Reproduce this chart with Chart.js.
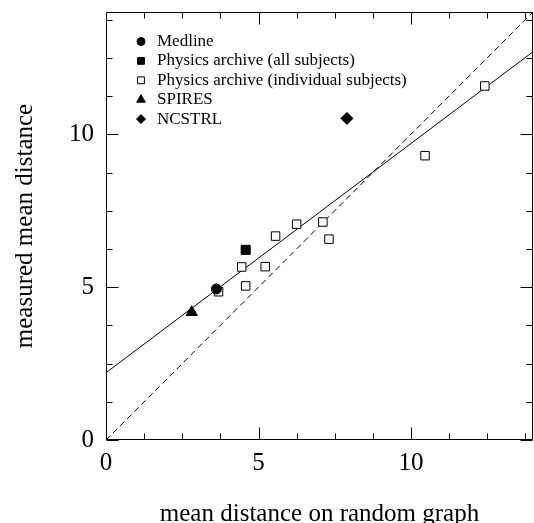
<!DOCTYPE html>
<html>
<head>
<meta charset="utf-8">
<title>Mean distance</title>
<script src="https://cdn.jsdelivr.net/npm/chart.js@4.4.0/dist/chart.umd.min.js"></script>
<style>
  html, body { margin: 0; padding: 0; background: #fff; }
  #distance-chart { display: block; }
</style>
</head>
<body>
<canvas id="distance-chart" width="534" height="523"></canvas>
<script>
(function () {
  'use strict';

  const medlineX = [3.62];
  const medlineY = [4.94];
  const physAllX = [4.58];
  const physAllY = [6.22];
  const physSubX = [3.69, 4.45, 4.58, 5.22, 5.56, 6.25, 7.11, 7.31, 10.46, 12.42];
  const physSubY = [4.85, 5.66, 5.04, 5.67, 6.67, 7.06, 7.13, 6.57, 9.30, 11.58];
  const spiresX = [2.81];
  const spiresY = [4.18];
  const ncstrlX = [7.90];
  const ncstrlY = [10.52];

  // Recta de ajuste y diagonal y = x.
  const fitX = [0, 14];
  const fitY = [2.2, 12.7];
  const diagX = [0, 14];
  const diagY = [0, 14];

  // Marcas de los ejes.
  const majorTicks = [0, 5, 10];
  const minorTicks = [1.25, 2.5, 3.75, 6.25, 7.5, 8.75, 11.25, 12.5, 13.75];

  const SERIF = '"Liberation Serif", "Times New Roman", serif';

  function toPoints(xs, ys) {
    return xs.map(function (x, i) {
      return { x: x, y: ys[i] };
    });
  }

  /**
   * Marco completo con marcas hacia dentro en los cuatro lados.
   */
  const framePlugin = {
    id: 'frame',
    beforeDatasetsDraw: function (chart) {
      const ctx = chart.ctx;
      const a = chart.chartArea;
      const sx = chart.scales.x;
      const sy = chart.scales.y;
      const L = Math.round(a.left) + 0.5;
      const R = Math.round(a.right) - 0.5;
      const T = Math.round(a.top) + 0.5;
      const B = Math.round(a.bottom) - 0.5;

      ctx.save();
      ctx.strokeStyle = '#000';
      ctx.lineWidth = 1;
      ctx.beginPath();
      ctx.rect(L, T, R - L, B - T);

      function mark(v, len) {
        const px = Math.round(sx.getPixelForValue(v)) + 0.5;
        const py = Math.round(sy.getPixelForValue(v)) + 0.5;
        ctx.moveTo(px, B); ctx.lineTo(px, B - len);
        ctx.moveTo(px, T); ctx.lineTo(px, T + len);
        ctx.moveTo(L, py); ctx.lineTo(L + len, py);
        ctx.moveTo(R, py); ctx.lineTo(R - len, py);
      }
      majorTicks.forEach(function (v) { mark(v, 12); });
      minorTicks.forEach(function (v) { mark(v, 6); });
      ctx.stroke();
      ctx.restore();
    },
  };

  /**
   * Leyenda dentro del área, arriba a la izquierda.
   */
  const legendPlugin = {
    id: 'insideLegend',
    afterDatasetsDraw: function (chart) {
      const ctx = chart.ctx;
      const rowX = 141;
      const textX = 157;
      const top = 41.5;
      const step = 19.4;
      const sizes = [4, 4.8, 4.8, 5, 4.5];

      ctx.save();
      ctx.font = '17px ' + SERIF;
      ctx.textBaseline = 'middle';
      ctx.textAlign = 'left';
      let row = 0;
      chart.data.datasets.forEach(function (ds) {
        if (ds.type === 'line') {
          return;
        }
        const y = top + row * step;
        ctx.fillStyle = ds.pointBackgroundColor;
        ctx.strokeStyle = ds.pointBorderColor;
        Chart.helpers.drawPoint(ctx, {
          pointStyle: ds.pointStyle,
          radius: sizes[row],
          rotation: 0,
          borderWidth: ds.pointBorderWidth,
        }, rowX, y);
        ctx.fillStyle = '#000';
        ctx.fillText(ds.label, textX, y);
        row++;
      });
      ctx.restore();
    },
  };

  function markers(label, xs, ys, style, radius, fill) {
    return {
      type: 'scatter',
      label: label,
      data: toPoints(xs, ys),
      pointStyle: style,
      pointRadius: radius,
      pointHoverRadius: radius,
      pointBackgroundColor: fill,
      pointBorderColor: '#000',
      pointBorderWidth: 1,
    };
  }

  function line(label, xs, ys, dash) {
    return {
      type: 'line',
      label: label,
      data: toPoints(xs, ys),
      borderColor: '#000',
      borderWidth: 1,
      borderDash: dash,
      pointRadius: 0,
      fill: false,
    };
  }

  const tickFont = { family: SERIF, size: 25 };

  new Chart(document.getElementById('distance-chart'), {
    data: {
      datasets: [
        markers('Medline', medlineX, medlineY, 'circle', 5, '#000'),
        markers('Physics archive (all subjects)', physAllX, physAllY, 'rect', 6.4, '#000'),
        markers('Physics archive (individual subjects)', physSubX, physSubY, 'rect', 6, '#fff'),
        markers('SPIRES', spiresX, spiresY, 'triangle', 6.5, '#000'),
        markers('NCSTRL', ncstrlX, ncstrlY, 'rectRot', 6, '#000'),
        line('fit', fitX, fitY, []),
        line('y = x', diagX, diagY, [6, 4]),
      ],
    },
    options: {
      responsive: false,
      animation: false,
      devicePixelRatio: 1,
      // Sin autoPadding: el área no se encoge por el radio de los puntos.
      layout: {
        autoPadding: false,
        padding: { top: 12, right: 1, left: 0, bottom: 0 },
      },
      plugins: {
        legend: { display: false },
        tooltip: { enabled: false },
      },
      scales: {
        x: {
          type: 'linear',
          min: 0,
          max: 14,
          grid: { display: false, drawTicks: false },
          border: { display: false },
          afterBuildTicks: function (scale) {
            scale.ticks = majorTicks.map(function (v) { return { value: v }; });
          },
          afterFit: function (scale) {
            scale.height = 83;
            scale.paddingLeft = 0;
            scale.paddingRight = 0;
          },
          ticks: { font: tickFont, color: '#000', padding: 8, maxRotation: 0 },
          title: {
            display: true,
            text: 'mean distance on random graph',
            font: { family: SERIF, size: 25, lineHeight: 0.7 },
            color: '#000',
            padding: { top: 0, bottom: 0 },
          },
        },
        y: {
          type: 'linear',
          min: 0,
          max: 14,
          grid: { display: false, drawTicks: false },
          border: { display: false },
          afterBuildTicks: function (scale) {
            scale.ticks = majorTicks.map(function (v) { return { value: v }; });
          },
          afterFit: function (scale) {
            scale.width = 106;
            scale.paddingTop = 0;
            scale.paddingBottom = 0;
          },
          ticks: { font: tickFont, color: '#000', padding: 12 },
          title: {
            display: true,
            text: 'measured mean distance',
            font: { family: SERIF, size: 25, lineHeight: 1 },
            color: '#000',
            padding: { top: 13, bottom: 0 },
          },
        },
      },
    },
    plugins: [framePlugin, legendPlugin],
  });
})();
</script>
</body>
</html>
